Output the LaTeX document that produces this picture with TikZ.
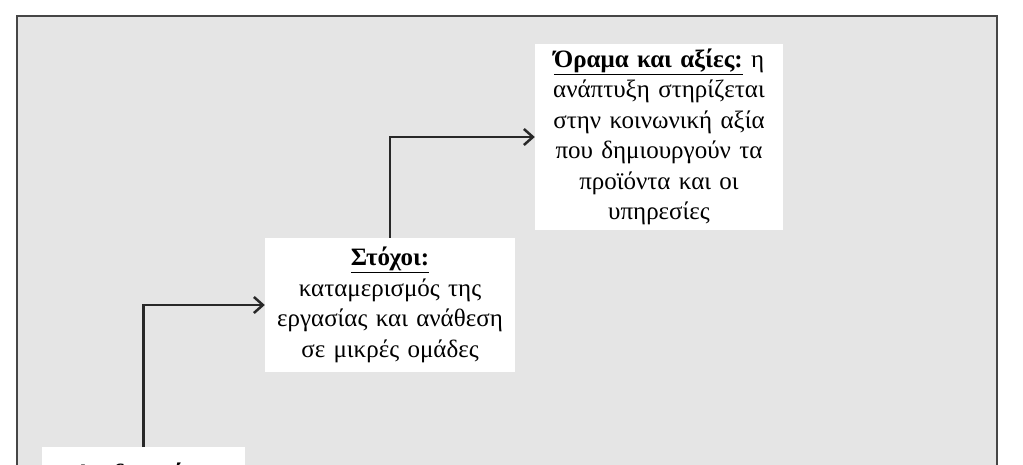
\documentclass[tikz,border=0pt]{standalone}
\usepackage{fontspec}
\setmainfont{Liberation Serif}
\usetikzlibrary{arrows.meta}
\definecolor{panelgray}{RGB}{229,229,229}
\definecolor{framegray}{RGB}{70,70,70}
\definecolor{linegray}{RGB}{40,40,40}
\begin{document}
\begin{tikzpicture}[x=1pt,y=-1pt,
  stepbox/.style={fill=white,inner sep=3pt,align=center,font=\fontsize{25}{30.5}\selectfont},
  link/.style={linegray,line width=2.5pt,-{Straight Barb[length=9pt,width=16pt,line width=2.5pt]}}]
\useasboundingbox (0,0) rectangle (1023,464);
\draw[framegray,line width=2.2pt,fill=panelgray] (17,16) rectangle (997,490);

\node[stepbox,minimum width=203pt,anchor=north,inner ysep=16pt,text width=174pt](proc) at (143.5,447) {\underline{\textbf{Διαδικασίες:}}};
\node[stepbox,minimum width=250pt,minimum height=134pt,text width=244pt](goals) at (390,305) {\underline{\textbf{Στόχοι:}}\\ καταμερισμός της\\ εργασίας και ανάθεση\\ σε μικρές ομάδες};
\node[stepbox,minimum width=248pt,minimum height=186pt,text width=242pt](vision) at (659,137) {\underline{\textbf{Όραμα και αξίες:}} η\\ ανάπτυξη στηρίζεται\\ στην κοινωνική αξία\\ που δημιουργούν τα\\ προϊόντα και οι\\ υπηρεσίες};

\draw[link] (proc.north) |- (goals.west);
\draw[link] (goals.north) |- (vision.west);
\end{tikzpicture}
\end{document}
